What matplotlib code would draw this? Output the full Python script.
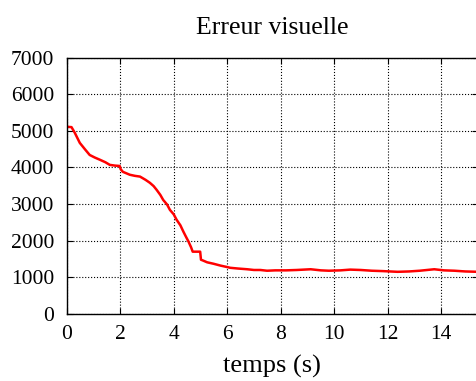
import numpy as np
import matplotlib
matplotlib.use("Agg")
import matplotlib.pyplot as plt

# erreur visuelle
temps = [0.0, 0.18, 0.30, 0.49, 0.70, 0.86, 1.05, 1.24, 1.45, 1.61, 1.80, 1.98,
         2.02, 2.1, 2.36, 2.55, 2.74, 2.95, 3.11, 3.25, 3.36, 3.50, 3.61, 3.75, 3.86,
         4.0, 4.11, 4.25, 4.36, 4.45, 4.55, 4.65, 4.71, 4.90, 4.99, 5.02, 5.09,
         5.25, 5.49, 5.75, 6.0, 6.11, 6.4, 6.75, 7.0, 7.24, 7.49, 7.8, 8.2,
         8.6, 9.12, 9.5, 9.8, 10.24, 10.6, 10.99, 11.4, 11.8, 12.37, 12.8,
         13.2, 13.74, 14.1, 14.49, 14.9, 15.37]
erreur = [5110, 5100, 4950, 4670, 4480, 4340, 4270, 4210, 4140, 4070, 4050, 4040,
          3950, 3880, 3800, 3770, 3750, 3660, 3580, 3490, 3390, 3250, 3110, 2990, 2840,
          2720, 2570, 2420, 2250, 2120, 1980, 1820, 1700, 1700, 1700, 1480, 1460,
          1410, 1370, 1320, 1280, 1260, 1240, 1220, 1200, 1200, 1180, 1190, 1190,
          1200, 1220, 1190, 1180, 1190, 1210, 1200, 1180, 1170, 1150, 1160,
          1180, 1220, 1190, 1180, 1160, 1150]

plt.rcParams['font.family'] = ['Liberation Serif', 'DejaVu Serif']

fig = plt.figure(figsize=(4.77, 3.81), dpi=100)
ax = fig.add_axes([0.1398, 0.176, 0.862, 0.673])

ax.plot(temps, erreur, color='red', lw=1.8)

ax.set_xlim(0, 15.37)
ax.set_ylim(0, 7000)
ax.set_xticks(np.arange(0, 15, 2))
ax.set_yticks(np.arange(0, 7001, 1000))
ax.tick_params(direction='in', top=True, right=True, labelsize=15.5, length=4)
ax.tick_params(axis='y', pad=9)
ax.tick_params(axis='x', pad=8)
ax.grid(True, ls=':', color='black', lw=0.8)
for s in ax.spines.values():
    s.set_linewidth(1.0)

ax.set_title('Erreur visuelle', fontsize=18.5, pad=17)
ax.set_xlabel('temps (s)', fontsize=19, labelpad=8)

fig.savefig('out.png', dpi=100)
